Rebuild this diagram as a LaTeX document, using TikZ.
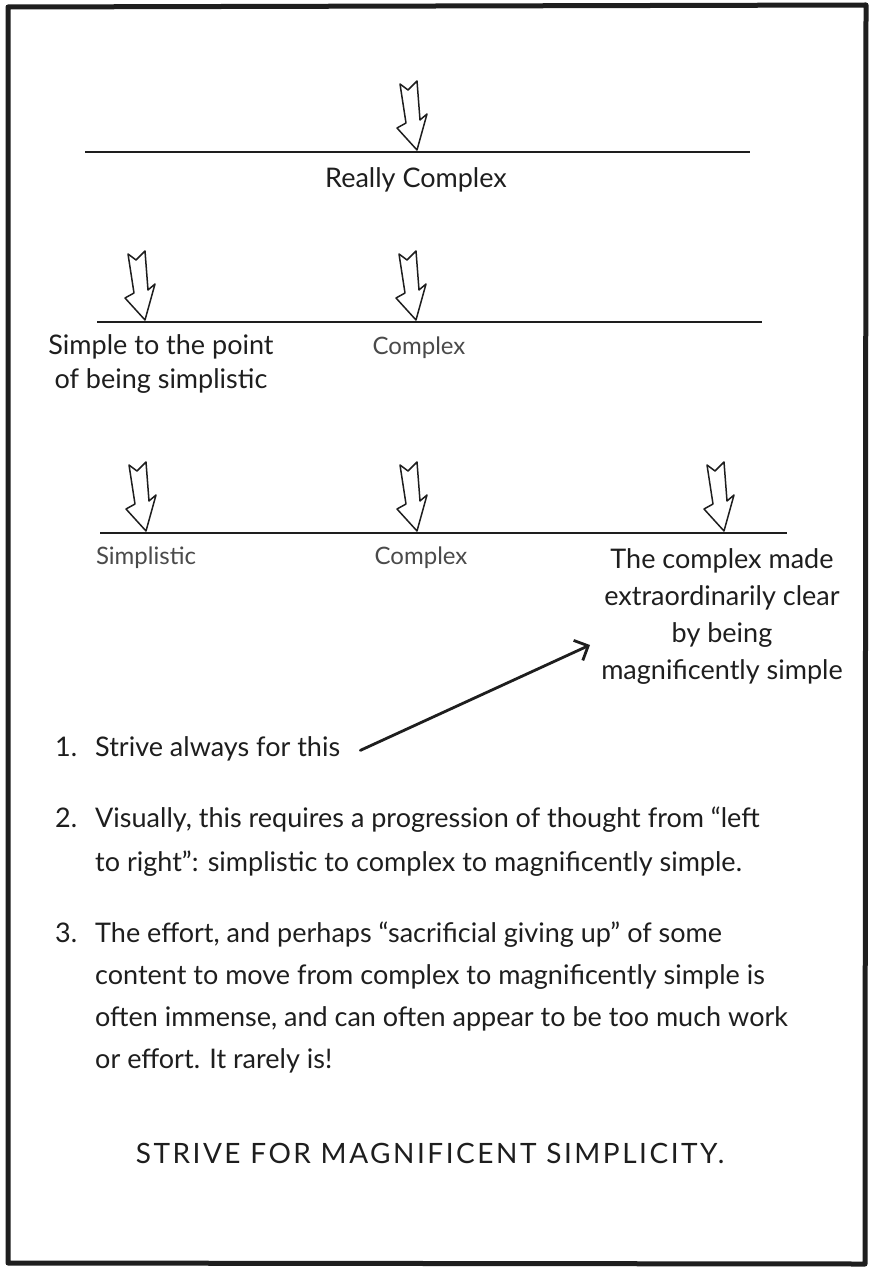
\documentclass[tikz,border=0pt]{standalone}
\usepackage{fontspec}
\setmainfont{Lato}
\usetikzlibrary{arrows.meta}
\definecolor{ink}{HTML}{1E1E1E}
\definecolor{softink}{HTML}{4A4A4A}
\tikzset{
  txt/.style={font=\fontsize{27}{30}\selectfont, text=ink, inner sep=0pt},
  lightlbl/.style={font=\fontsize{24}{28}\selectfont, text=softink, inner sep=0pt},
  baseline line/.style={line width=1.6pt, draw=ink},
  hollowarrow/.pic={\draw[line width=1.5pt, draw=ink, line join=round, fill=white]
     (0,0) -- (-20,-22) -- (-11,-27) -- (-17,-66) -- (-9,-60) -- (0,-69) -- (3,-30) -- (10,-36) -- cycle;},
  bigarrow/.style={line width=2.8pt, draw=ink, line cap=round, -{Straight Barb[length=11pt,width=22pt,line width=2.8pt]}}
}
\begin{document}
\begin{tikzpicture}[x=1pt,y=-1pt]
\useasboundingbox (0,0) rectangle (871,1268);
\fill[white] (0,0) rectangle (871,1268);
% border
\draw[line width=5pt, draw=ink, line join=round] (8,7) -- (866,5) -- (865,1264) -- (8,1263) -- cycle;

% row 1
\coordinate (t1) at (417,150);
\draw[baseline line] (85,152) -- (750,152);
\pic at (t1) {hollowarrow};
\node[txt] (rc) at (416,180) {Really Complex};

% row 2
\coordinate (t2a) at (145,320);
\coordinate (t2b) at (416,320);
\draw[baseline line] (97,322) -- (762,322);
\pic at (t2a) {hollowarrow};
\pic at (t2b) {hollowarrow};
\node[txt, align=center, font=\fontsize{27}{34}\selectfont] (simp) at (161,364) {Simple to the point\\of being simplistic};
\node[lightlbl] (cx2) at (419,348) {Complex};

% row 3
\coordinate (t3a) at (146,531);
\coordinate (t3b) at (417,531);
\coordinate (t3c) at (724,531);
\draw[baseline line] (100,533) -- (787,533);
\pic at (t3a) {hollowarrow};
\pic at (t3b) {hollowarrow};
\pic at (t3c) {hollowarrow};
\node[lightlbl] (sl3) at (146,558) {Simplistic};
\node[lightlbl] (cx3) at (421,558) {Complex};
\node[txt, align=center, font=\fontsize{27}{37}\selectfont] (mag) at (722,617)
  {The complex made\\extraordinarily clear\\by being\\magnificently simple};

% items
\node[txt, anchor=base west] (n1) at (55,756) {1.};
\node[txt, anchor=base west] (i1) at (95,756) {Strive always for this};
\coordinate (bigtip) at (590,645);
\draw[bigarrow] ([xshift=20pt,yshift=-2pt]i1.east) -- (bigtip);

\node[txt, anchor=base west] (n2) at (55,827) {2.};
\node[txt, anchor=base west] (i2a) at (95,827) {Visually, this requires a progression of thought from “left};
\node[txt, anchor=base west] (i2b) at (95,871) {to right”: simplistic to complex to magnificently simple.};

\node[txt, anchor=base west] (n3) at (55,942) {3.};
\node[txt, anchor=base west] (i3a) at (95,942) {The effort, and perhaps “sacrificial giving up” of some};
\node[txt, anchor=base west] (i3b) at (95,984) {content to move from complex to magnificently simple is};
\node[txt, anchor=base west] (i3c) at (95,1026) {often immense, and can often appear to be too much work};
\node[txt, anchor=base west] (i3d) at (95,1068) {or effort. It rarely is!};

\node[txt, font=\fontsize{28}{30}\selectfont\addfontfeatures{LetterSpace=9}] (motto) at (430,1153) {STRIVE FOR MAGNIFICENT SIMPLICITY.};
\end{tikzpicture}
\end{document}
